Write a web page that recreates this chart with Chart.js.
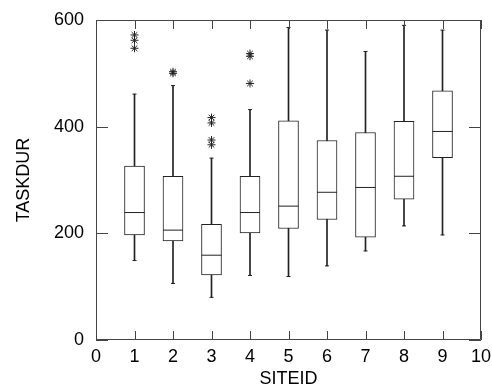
<!DOCTYPE html>
<html>
<head>
<meta charset="utf-8">
<script src="https://cdn.jsdelivr.net/npm/chart.js@4/dist/chart.umd.min.js"></script>
<style>
  html, body { margin: 0; padding: 0; background: #fff; }
  #wrap { width: 492px; height: 390px; }
</style>
</head>
<body>
<div id="wrap"><canvas id="c" width="492" height="390"></canvas></div>
<script>
const categories = [1, 2, 3, 4, 5, 6, 7, 8, 9];
const lowWhisker = [149, 106, 80, 121, 119, 139, 167, 214, 197];
const q1 = [197, 186, 122, 201, 209, 226, 193, 264, 342];
const median = [239, 206, 159, 239, 251, 277, 286, 307, 391];
const q3 = [326, 307, 217, 307, 411, 374, 389, 410, 467];
const highWhisker = [461, 477, 341, 432, 586, 581, 541, 590, 581];
const outliers = [[572, 562, 547], [503, 500], [417, 407, 375, 366], [537, 532, 481], [], [], [], [], []];
const xTicks = [0, 1, 2, 3, 4, 5, 6, 7, 8, 9, 10];
const yTicks = [0, 200, 400, 600];

const LINE = '#222';
const FRAME = '#444';

const boxData = categories.map((c, i) => ({ x: c, y: [q1[i], q3[i]] }));
const whiskerData = categories.map((c, i) => ({ x: c, y: [lowWhisker[i], highWhisker[i]] }));
const medianData = categories.map((c, i) => ({ x: c, y: median[i] }));
const capData = [];
categories.forEach((c, i) => { capData.push({ x: c, y: lowWhisker[i] }); capData.push({ x: c, y: highWhisker[i] }); });
const outlierData = [];
categories.forEach((c, i) => outliers[i].forEach(v => outlierData.push({ x: c, y: v })));

const framePlugin = {
  id: 'frame',
  afterDatasetsDraw(chart) {
    const { ctx, chartArea: a, scales } = chart;
    ctx.save();
    ctx.strokeStyle = FRAME;
    ctx.lineWidth = 1;
    ctx.beginPath();
    ctx.rect(a.left + 0.5, a.top + 0.5, a.right - a.left - 1, a.bottom - a.top - 1);
    xTicks.forEach(v => {
      const px = Math.round(scales.x.getPixelForValue(v)) + 0.5;
      ctx.moveTo(px, a.bottom); ctx.lineTo(px, a.bottom - 9);
      ctx.moveTo(px, a.top); ctx.lineTo(px, a.top + 9);
    });
    yTicks.forEach(v => {
      const py = Math.round(scales.y.getPixelForValue(v)) + 0.5;
      ctx.moveTo(a.left, py); ctx.lineTo(a.left + 12, py);
      ctx.moveTo(a.right, py); ctx.lineTo(a.right - 12, py);
    });
    ctx.stroke();
    ctx.restore();
  }
};

Chart.defaults.font.family = '"Liberation Sans", Arial, sans-serif';
Chart.defaults.font.size = 18;
Chart.defaults.color = '#000';

new Chart(document.getElementById('c'), {
  type: 'bar',
  data: {
    datasets: [
      { type: 'scatter', data: medianData, pointStyle: 'line', radius: 10, borderColor: LINE, borderWidth: 1, order: 0 },
      { type: 'scatter', data: capData, pointStyle: 'line', radius: 2, borderColor: LINE, borderWidth: 1, order: 1 },
      { type: 'scatter', data: outlierData, pointStyle: 'star', radius: 4, borderColor: LINE, borderWidth: 1, order: 2 },
      { type: 'bar', data: boxData, backgroundColor: '#fff', borderColor: LINE, borderWidth: 1, borderSkipped: false, barThickness: 20, grouped: false, order: 3 },
      { type: 'bar', data: whiskerData, backgroundColor: LINE, borderWidth: 0, barThickness: 1, grouped: false, order: 4 }
    ]
  },
  options: {
    responsive: false,
    animation: false,
    events: [],
    layout: { padding: { left: 0, top: 20, right: 10, bottom: 0 } },
    plugins: { legend: { display: false }, tooltip: { enabled: false } },
    scales: {
      x: {
        type: 'linear', min: 0, max: 10, offset: false,
        grid: { display: false, drawTicks: false },
        border: { display: false },
        ticks: { stepSize: 1, padding: 6, maxRotation: 0, autoSkip: false },
        title: { display: true, text: 'SITEID', padding: { top: 0, bottom: 0 } },
        afterFit: s => { s.height = 50; s.paddingLeft = 0; s.paddingRight = 0; }
      },
      y: {
        type: 'linear', min: 0, max: 600,
        grid: { display: false, drawTicks: false },
        border: { display: false },
        ticks: { stepSize: 200, padding: 12 },
        title: { display: true, text: 'TASKDUR', padding: { top: 13, bottom: 0 } },
        afterFit: s => { s.width = 96; s.paddingTop = 0; s.paddingBottom = 0; }
      }
    }
  },
  plugins: [framePlugin]
});
</script>
</body>
</html>
